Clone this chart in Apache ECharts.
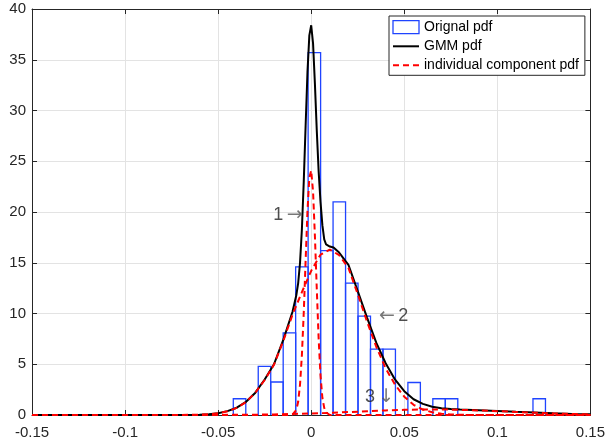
<!DOCTYPE html>
<html>
<head>
<meta charset="utf-8">
<script src="https://cdn.jsdelivr.net/npm/echarts@6/dist/echarts.min.js"></script>
<style>html,body{margin:0;padding:0;background:#fff;}#c{width:608px;height:444px;}</style>
</head>
<body>
<div id="c"></div>
<script>
// ---- data ----
const xTicks = [-0.15, -0.1, -0.05, 0, 0.05, 0.1, 0.15];
const yTicks = [0, 5, 10, 15, 20, 25, 30, 35, 40];

// histogram (non-empty bins): bin centres and pdf heights
const binWidth = 0.00671;
const binCenters = [-0.0385, -0.0251, -0.0184, -0.0117, -0.0050, 0.0017, 0.0084, 0.0151, 0.0218, 0.0285, 0.0352, 0.0419, 0.0553, 0.0687, 0.0754, 0.1225];
const binHeights = [1.6, 4.8, 3.25, 8.1, 14.6, 35.7, 16.2, 21.0, 13.0, 9.75, 6.5, 6.5, 3.2, 1.6, 1.6, 1.6];

// GMM pdf
const gmmX = [-0.15, -0.1, -0.08, -0.07, -0.06, -0.055, -0.05, -0.045, -0.04, -0.035, -0.03, -0.025, -0.02, -0.015, -0.01, -0.008, -0.007, -0.006, -0.005, -0.004, -0.003, -0.002, -0.001, 0, 0.001, 0.002, 0.003, 0.004, 0.005, 0.006, 0.007, 0.008, 0.01, 0.012, 0.015, 0.02, 0.025, 0.03, 0.035, 0.04, 0.045, 0.05, 0.055, 0.06, 0.065, 0.07, 0.075, 0.08, 0.09, 0.1, 0.11, 0.12, 0.13, 0.14, 0.15];
const gmmY = [0, 0, 0, 0.01, 0.03, 0.08, 0.18, 0.38, 0.72, 1.3, 2.2, 3.5, 5.0, 7.4, 10.2, 11.8, 13.0, 15.0, 18.3, 23.0, 28.5, 33.8, 37.4, 38.4, 36.6, 32.6, 28.0, 24.0, 21.0, 18.7, 17.3, 16.8, 16.6, 16.5, 16.0, 14.8, 12.2, 9.6, 7.1, 5.1, 3.5, 2.35, 1.55, 1.1, 0.82, 0.67, 0.58, 0.53, 0.46, 0.39, 0.31, 0.24, 0.17, 0.11, 0.07];

// individual components
const comp1X = [-0.15, -0.012, -0.01, -0.008, -0.007, -0.006, -0.005, -0.004, -0.003, -0.002, -0.001, 0, 0.001, 0.002, 0.003, 0.004, 0.005, 0.006, 0.007, 0.008, 0.01, 0.15];
const comp1Y = [0, 0, 0.05, 0.5, 1.3, 3.0, 5.9, 10.1, 15.2, 20.1, 23.4, 24.1, 22.0, 17.6, 12.4, 7.5, 3.9, 1.7, 0.7, 0.25, 0, 0];
const comp2X = [-0.15, -0.08, -0.07, -0.06, -0.055, -0.05, -0.045, -0.04, -0.035, -0.03, -0.025, -0.02, -0.015, -0.01, -0.005, 0, 0.005, 0.01, 0.015, 0.02, 0.025, 0.03, 0.035, 0.04, 0.045, 0.05, 0.055, 0.06, 0.065, 0.07, 0.075, 0.08, 0.09, 0.15];
const comp2Y = [0, 0, 0.01, 0.03, 0.07, 0.17, 0.36, 0.7, 1.28, 2.2, 3.45, 4.95, 7.3, 9.9, 12.1, 14.2, 15.8, 16.3, 15.75, 14.5, 11.9, 9.2, 6.7, 4.6, 3.0, 1.8, 1.0, 0.54, 0.27, 0.12, 0.05, 0.02, 0, 0];
const comp3X = [-0.15, -0.1, -0.05, -0.03, -0.02, -0.01, 0, 0.01, 0.02, 0.03, 0.04, 0.05, 0.06, 0.07, 0.08, 0.09, 0.1, 0.11, 0.12, 0.13, 0.14, 0.15];
const comp3Y = [0, 0, 0.01, 0.03, 0.06, 0.1, 0.15, 0.21, 0.29, 0.37, 0.45, 0.51, 0.545, 0.545, 0.51, 0.45, 0.38, 0.3, 0.23, 0.16, 0.1, 0.06];

// text annotations (anchor in data coordinates)
const annoNum = ['1', '2', '3'];
const annoArrow = ['\u2192', '\u2190', '\u2193'];
const annoArrowFirst = [false, true, false];
const annoX = [-0.0125, 0.0443, 0.0367];
const annoY = [19.7, 9.75, 1.75];

// ---- chart ----
const zip = (xs, ys) => xs.map((x, i) => [x, ys[i]]);
const FONT = "'Liberation Sans', Arial, 'DejaVu Sans', sans-serif";
const AX = '#262626';
const BLUE = '#1f44ff';
const fmt = v => String(+(+v).toFixed(2));

const chart = echarts.init(document.getElementById('c'), null, {renderer: 'canvas'});
const red = {color: '#ff0000', width: 2, type: [6, 4]};
const hiddenSym = {color: 'rgba(0,0,0,0)', borderColor: 'rgba(0,0,0,0)', borderWidth: 0, opacity: 0};

chart.setOption({
  animation: false,
  backgroundColor: '#fff',
  grid: {left: 32, right: 17, top: 9, bottom: 29, containLabel: false},
  legend: {
    orient: 'vertical', left: 389, top: 16,
    padding: [4, 6, 3, 3], itemGap: 5, itemWidth: 26, itemHeight: 13,
    borderColor: AX, borderWidth: 1, backgroundColor: '#fff',
    textStyle: {fontFamily: FONT, fontSize: 14, color: '#000'},
    data: [
      {name: 'Orignal pdf', icon: 'rect', itemStyle: {color: '#fff', borderColor: BLUE, borderWidth: 1.3}},
      {name: 'GMM pdf', itemStyle: hiddenSym},
      {name: 'individual component pdf', itemStyle: hiddenSym}
    ]
  },
  xAxis: [{
    type: 'value', min: xTicks[0], max: xTicks[xTicks.length - 1], interval: 0.05,
    axisLine: {show: true, onZero: false, lineStyle: {color: AX, width: 1}},
    axisTick: {show: true, inside: true, length: 5, lineStyle: {color: AX}},
    axisLabel: {color: AX, fontFamily: FONT, fontSize: 15, margin: 10, formatter: fmt},
    splitLine: {show: true, lineStyle: {color: '#e3e3e3', width: 1}}
  }, {
    type: 'value', position: 'top', min: xTicks[0], max: xTicks[xTicks.length - 1], interval: 0.05,
    axisLine: {show: true, onZero: false, lineStyle: {color: AX, width: 1}},
    axisTick: {show: true, inside: true, length: 5, lineStyle: {color: AX}},
    axisLabel: {show: false}, splitLine: {show: false}
  }],
  yAxis: [{
    type: 'value', min: yTicks[0], max: yTicks[yTicks.length - 1], interval: 5,
    axisLine: {show: true, onZero: false, lineStyle: {color: AX, width: 1}},
    axisTick: {show: true, inside: true, length: 5, lineStyle: {color: AX}},
    axisLabel: {color: AX, fontFamily: FONT, fontSize: 15, margin: 6},
    splitLine: {show: true, lineStyle: {color: '#e3e3e3', width: 1}}
  }, {
    type: 'value', position: 'right', min: yTicks[0], max: yTicks[yTicks.length - 1], interval: 5,
    axisLine: {show: true, onZero: false, lineStyle: {color: AX, width: 1}},
    axisTick: {show: true, inside: true, length: 5, lineStyle: {color: AX}},
    axisLabel: {show: false}, splitLine: {show: false}
  }],
  series: [
    {
      name: 'Orignal pdf', type: 'custom', z: 2,
      itemStyle: {color: 'rgba(0,0,0,0)', borderColor: BLUE, borderWidth: 1.3},
      data: zip(binCenters, binHeights),
      renderItem: function (params, api) {
        const c = api.value(0), h = api.value(1);
        const p0 = api.coord([c - binWidth / 2, h]);
        const p1 = api.coord([c + binWidth / 2, 0]);
        return {
          type: 'polyline',
          shape: {points: [[p0[0], p1[1]], [p0[0], p0[1]], [p1[0], p0[1]], [p1[0], p1[1]]]},
          style: {fill: null, stroke: BLUE, lineWidth: 1.3}
        };
      }
    },
    {
      name: 'GMM pdf', type: 'line', z: 3, symbol: 'none', smooth: false,
      lineStyle: {color: '#000', width: 2}, itemStyle: {color: '#000'},
      data: zip(gmmX, gmmY)
    },
    {
      name: 'individual component pdf', type: 'line', z: 4, symbol: 'none',
      lineStyle: red, itemStyle: {color: '#ff0000'}, data: zip(comp1X, comp1Y)
    },
    {
      name: 'individual component pdf', type: 'line', z: 4, symbol: 'none',
      lineStyle: red, itemStyle: {color: '#ff0000'}, data: zip(comp2X, comp2Y)
    },
    {
      name: 'individual component pdf', type: 'line', z: 4, symbol: 'none',
      lineStyle: red, itemStyle: {color: '#ff0000'}, data: zip(comp3X, comp3Y)
    },
    {
      name: 'annotations', type: 'scatter', z: 5, symbolSize: 0, silent: true,
      data: annoNum.map((t, i) => ({name: t, value: [annoX[i], annoY[i]], arrow: annoArrow[i], first: annoArrowFirst[i]})),
      label: {
        show: true, position: 'inside',
        formatter: p => p.data.first ? '{a|' + p.data.arrow + '} {d|' + p.data.name + '}' : '{d|' + p.data.name + '} {a|' + p.data.arrow + '}',
        rich: {
          d: {color: '#222', fontFamily: FONT, fontSize: 18},
          a: {color: '#555', fontFamily: "'DejaVu Sans', sans-serif", fontSize: 19}
        }
      }
    }
  ]
});
</script>
</body>
</html>
